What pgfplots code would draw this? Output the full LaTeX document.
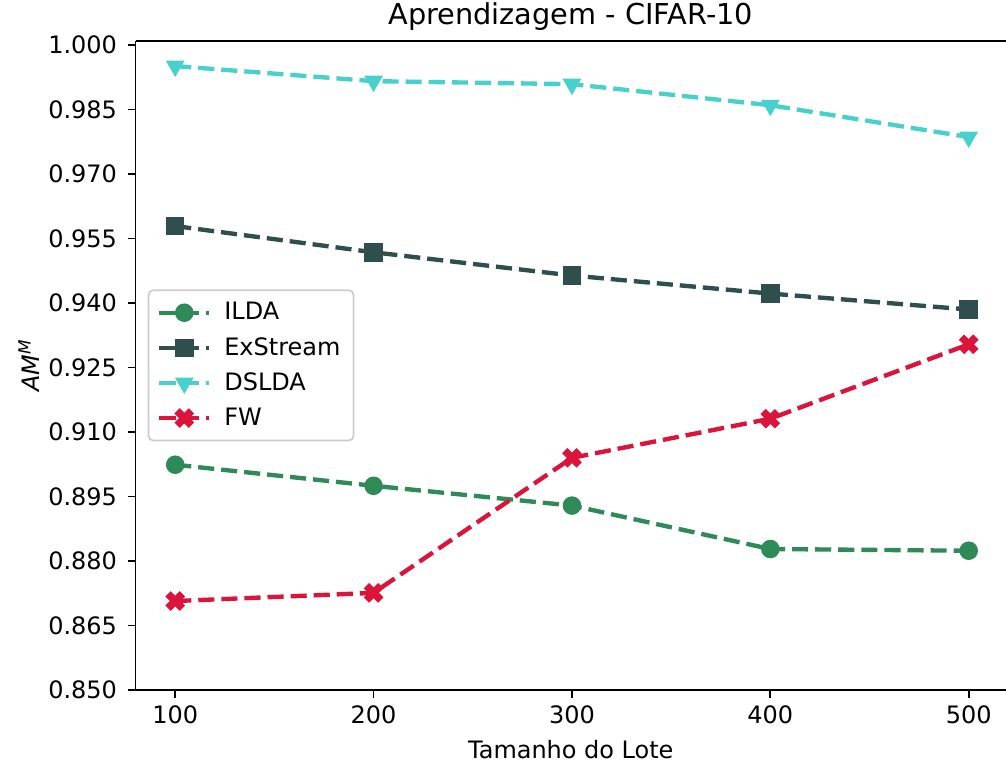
\documentclass[border=0pt]{standalone}
\usepackage{fontspec}
\setmainfont{DejaVu Sans}
\usepackage{pgfplots}
\pgfplotsset{compat=1.18}
\definecolor{ilda}{HTML}{2E8B57}
\definecolor{exstream}{HTML}{2F4F4F}
\definecolor{dslda}{HTML}{48D1CC}
\definecolor{fw}{HTML}{DC143C}
% filled X marker like matplotlib 'X'
\pgfdeclareplotmark{Xfill}{%
  \pgfpathmoveto{\pgfqpoint{0.495\pgfplotmarksize}{-0.99\pgfplotmarksize}}%
  \pgfpathlineto{\pgfqpoint{0.99\pgfplotmarksize}{-0.495\pgfplotmarksize}}%
  \pgfpathlineto{\pgfqpoint{0.495\pgfplotmarksize}{0pt}}%
  \pgfpathlineto{\pgfqpoint{0.99\pgfplotmarksize}{0.495\pgfplotmarksize}}%
  \pgfpathlineto{\pgfqpoint{0.495\pgfplotmarksize}{0.99\pgfplotmarksize}}%
  \pgfpathlineto{\pgfqpoint{0pt}{0.495\pgfplotmarksize}}%
  \pgfpathlineto{\pgfqpoint{-0.495\pgfplotmarksize}{0.99\pgfplotmarksize}}%
  \pgfpathlineto{\pgfqpoint{-0.99\pgfplotmarksize}{0.495\pgfplotmarksize}}%
  \pgfpathlineto{\pgfqpoint{-0.495\pgfplotmarksize}{0pt}}%
  \pgfpathlineto{\pgfqpoint{-0.99\pgfplotmarksize}{-0.495\pgfplotmarksize}}%
  \pgfpathlineto{\pgfqpoint{-0.495\pgfplotmarksize}{-0.99\pgfplotmarksize}}%
  \pgfpathlineto{\pgfqpoint{0pt}{-0.495\pgfplotmarksize}}%
  \pgfpathclose
  \pgfusepathqfillstroke}

\begin{document}
\begin{tikzpicture}
\begin{axis}[
    name=ax,
    scale only axis,
    width=399.5pt, height=298pt,
    xmin=80, xmax=518.8, ymin=0.85, ymax=1.001,
    axis x line*=box, axis y line*=left,
    xtick pos=bottom, ytick pos=left,
    tick align=outside, major tick length=3.5pt,
    every tick/.style={black, line width=0.8pt},
    axis line style={line width=0.8pt},
    xtick={100,200,300,400,500},
    ytick={0.85,0.865,0.88,0.895,0.91,0.925,0.94,0.955,0.97,0.985,1.0},
    /pgf/number format/assume math mode=true,
    yticklabel style={/pgf/number format/fixed,
        /pgf/number format/fixed zerofill,
        /pgf/number format/precision=3, xshift=-1.5pt},
    ticklabel style={font=\fontsize{11}{13}\selectfont},
    every axis title shift=0pt,
    title={Aprendizagem - CIFAR-10},
    title style={at={(axis description cs:0.5,1.0366)}, anchor=center,
        font=\fontsize{13.2}{15}\selectfont},
    xlabel={Tamanho do Lote},
    xlabel style={at={(axis description cs:0.5,-0.0913)}, anchor=center,
        font=\fontsize{11}{13}\selectfont},
    ylabel={\textit{AM}\textsuperscript{\textit{M}}},
    ylabel style={at={(axis description cs:-0.1225,0.5)}, anchor=center,
        font=\fontsize{11}{13}\selectfont},
    every axis plot/.append style={line width=2pt, dash pattern=on 7.4pt off 3.2pt},
    legend image code/.code={\draw[mark repeat=2,mark phase=2,#1]
        plot coordinates {(0cm,0cm) (0.4cm,0cm) (0.8cm,0cm)};},
    legend style={at={(0.014,0.5)}, anchor=west, draw=black!20,
        line width=0.8pt, rounded corners=2pt, fill=white,
        font=\fontsize{11}{13}\selectfont, row sep=2.5pt,
        inner xsep=4pt, inner ysep=3.5pt,
        /tikz/every odd column/.append style={column sep=4pt}},
    legend cell align=left,
]
\addplot[ilda, mark=*, mark size=4pt, mark options={solid, line width=0.5pt}]
  coordinates {(100,0.9024)(200,0.8975)(300,0.8929)(400,0.8828)(500,0.8824)};
\addlegendentry{ILDA}
\addplot[exstream, mark=square*, mark size=4pt, mark options={solid, line width=0.5pt}]
  coordinates {(100,0.9579)(200,0.9518)(300,0.9464)(400,0.9422)(500,0.9385)};
\addlegendentry{ExStream}
\addplot[dslda, mark=triangle*, mark size=4.5pt, mark options={solid, rotate=180, line width=0.5pt}]
  coordinates {(100,0.9951)(200,0.9916)(300,0.9909)(400,0.9860)(500,0.9786)};
\addlegendentry{DSLDA}
\addplot[fw, mark=Xfill, mark size=4.2pt, mark options={solid, line width=0.5pt}]
  coordinates {(100,0.8707)(200,0.8726)(300,0.9040)(400,0.9131)(500,0.9304)};
\addlegendentry{FW}
\end{axis}
\pgfresetboundingbox
\path[use as bounding box] ([xshift=-62.2pt,yshift=-35.9pt]ax.south west)
  rectangle ([yshift=18.7pt]ax.north east);
\end{tikzpicture}
\end{document}
